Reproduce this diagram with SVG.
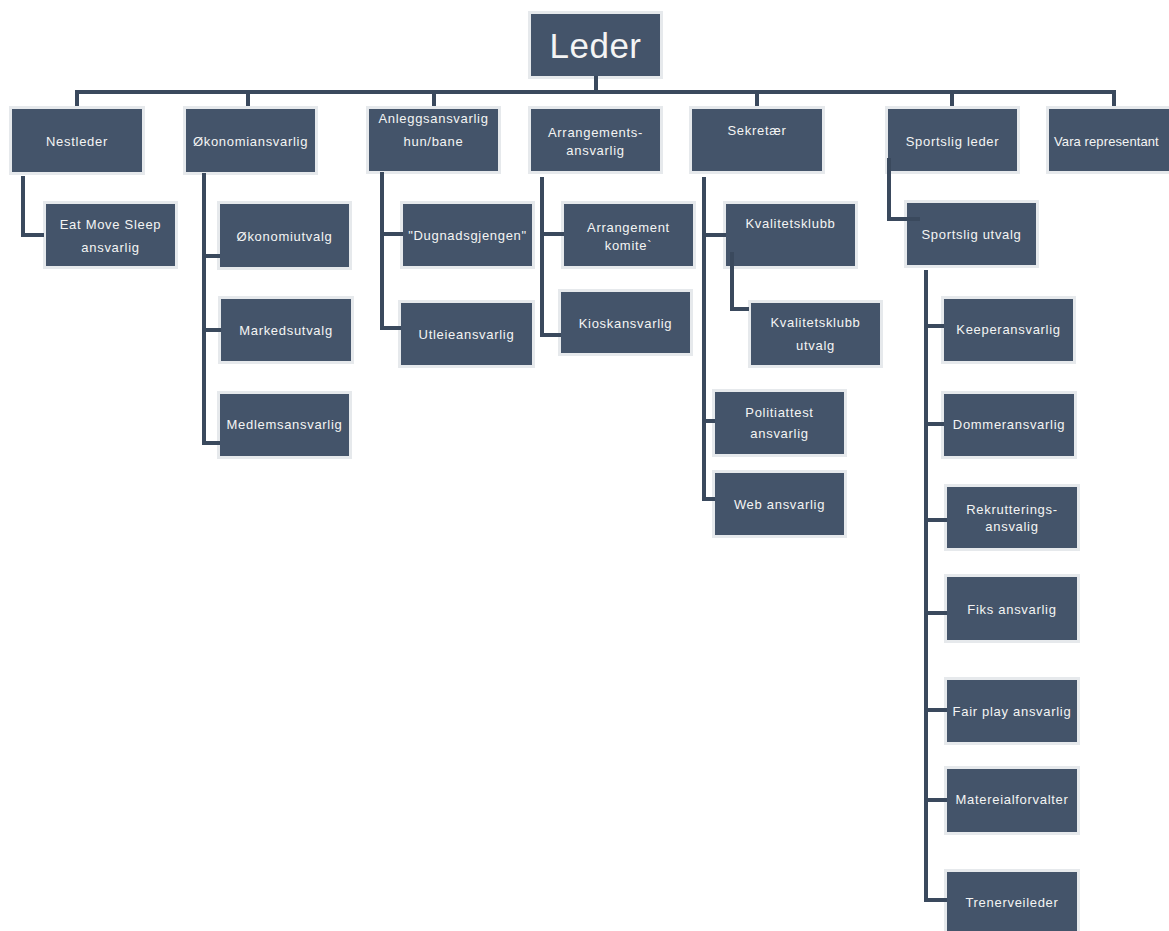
<svg xmlns="http://www.w3.org/2000/svg" width="1169" height="931" viewBox="0 0 1169 931">
<style>
.glow{fill:#e6e9ec}
.box{fill:#44546a}
.t{font-family:"Liberation Sans",Arial,sans-serif;font-size:13px;fill:#f4f4f4;text-anchor:middle;letter-spacing:0.7px}
.big{font-size:35px;letter-spacing:0.5px}
.c{fill:none;stroke:#3a495d;stroke-width:4;stroke-linejoin:miter;stroke-linecap:butt}
</style>
<rect width="1169" height="931" fill="#ffffff"/>
<g id="nodes">
<g id="leder"><rect class="glow" x="528" y="11" width="135" height="68"/><rect class="box" x="531" y="14" width="129" height="62"/><text class="t big" x="595.5" y="58">Leder</text></g>
<g id="nestleder"><rect class="glow" x="9" y="106" width="136" height="69"/><rect class="box" x="12" y="109" width="130" height="63"/><text class="t" x="77" y="145.5">Nestleder</text></g>
<g id="okonomiansvarlig"><rect class="glow" x="183" y="106" width="135" height="69"/><rect class="box" x="186" y="109" width="129" height="63"/><text class="t" x="250.5" y="145.5">Økonomiansvarlig</text></g>
<g id="anlegg"><rect class="glow" x="366" y="106" width="135" height="68"/><rect class="box" x="369" y="109" width="129" height="62"/><text class="t" x="433.5" y="122.5">Anleggsansvarlig</text><text class="t" x="433.5" y="145.5">hun/bane</text></g>
<g id="arrangements"><rect class="glow" x="528" y="106" width="135" height="68"/><rect class="box" x="531" y="109" width="129" height="62"/><text class="t" x="595.5" y="136.5">Arrangements-</text><text class="t" x="595.5" y="154.5">ansvarlig</text></g>
<g id="sekretaer"><rect class="glow" x="689" y="106" width="136" height="68"/><rect class="box" x="692" y="109" width="130" height="62"/><text class="t" x="757" y="134.5">Sekretær</text></g>
<g id="sportslig-leder"><rect class="glow" x="885" y="106" width="135" height="68"/><rect class="box" x="888" y="109" width="129" height="62"/><text class="t" x="952.5" y="145.5">Sportslig leder</text></g>
<g id="vara"><rect class="glow" x="1046" y="106" width="136" height="68"/><rect class="box" x="1049" y="109" width="130" height="62"/><text class="t" x="1054" y="145.5" style="text-anchor:start;letter-spacing:0.1px">Vara representant</text></g>
<g id="eat-move-sleep"><rect class="glow" x="43" y="201" width="135" height="68"/><rect class="box" x="46" y="204" width="129" height="62"/><text class="t" x="110.5" y="228.5">Eat Move Sleep</text><text class="t" x="110.5" y="251.5">ansvarlig</text></g>
<g id="okonomiutvalg"><rect class="glow" x="217" y="201" width="135" height="69"/><rect class="box" x="220" y="204" width="129" height="63"/><text class="t" x="284.5" y="240.5">Økonomiutvalg</text></g>
<g id="markedsutvalg"><rect class="glow" x="218" y="296" width="136" height="68"/><rect class="box" x="221" y="299" width="130" height="62"/><text class="t" x="286" y="334.5">Markedsutvalg</text></g>
<g id="medlemsansvarlig"><rect class="glow" x="217" y="391" width="135" height="68"/><rect class="box" x="220" y="394" width="129" height="62"/><text class="t" x="284.5" y="428.5">Medlemsansvarlig</text></g>
<g id="dugnadsgjengen"><rect class="glow" x="400" y="201" width="135" height="68"/><rect class="box" x="403" y="204" width="129" height="62"/><text class="t" x="467.5" y="239.5">"Dugnadsgjengen"</text></g>
<g id="utleieansvarlig"><rect class="glow" x="398" y="300" width="137" height="68"/><rect class="box" x="401" y="303" width="131" height="62"/><text class="t" x="466.5" y="338.5">Utleieansvarlig</text></g>
<g id="arrangement-komite"><rect class="glow" x="561" y="201" width="135" height="68"/><rect class="box" x="564" y="204" width="129" height="62"/><text class="t" x="628.5" y="231.5">Arrangement</text><text class="t" x="628.5" y="249.5">komite`</text></g>
<g id="kioskansvarlig"><rect class="glow" x="558" y="289" width="135" height="67"/><rect class="box" x="561" y="292" width="129" height="61"/><text class="t" x="625.5" y="327.5">Kioskansvarlig</text></g>
<g id="kvalitetsklubb"><rect class="glow" x="723" y="201" width="135" height="68"/><rect class="box" x="726" y="204" width="129" height="62"/><text class="t" x="790.5" y="227.5">Kvalitetsklubb</text></g>
<g id="kvalitetsklubb-utvalg"><rect class="glow" x="748" y="300" width="135" height="68"/><rect class="box" x="751" y="303" width="129" height="62"/><text class="t" x="815.5" y="326.5">Kvalitetsklubb</text><text class="t" x="815.5" y="349.5">utvalg</text></g>
<g id="politiattest"><rect class="glow" x="712" y="389" width="135" height="68"/><rect class="box" x="715" y="392" width="129" height="62"/><text class="t" x="779.5" y="416.5">Politiattest</text><text class="t" x="779.5" y="437.5">ansvarlig</text></g>
<g id="web-ansvarlig"><rect class="glow" x="712" y="470" width="135" height="68"/><rect class="box" x="715" y="473" width="129" height="62"/><text class="t" x="779.5" y="508.5">Web ansvarlig</text></g>
<g id="sportslig-utvalg"><rect class="glow" x="904" y="200" width="135" height="68"/><rect class="box" x="907" y="203" width="129" height="62"/><text class="t" x="971.5" y="238.5">Sportslig utvalg</text></g>
<g id="keeperansvarlig"><rect class="glow" x="941" y="296" width="135" height="68"/><rect class="box" x="944" y="299" width="129" height="62"/><text class="t" x="1008.5" y="333.5">Keeperansvarlig</text></g>
<g id="dommeransvarlig"><rect class="glow" x="941" y="391" width="136" height="68"/><rect class="box" x="944" y="394" width="130" height="62"/><text class="t" x="1009" y="428.5">Dommeransvarlig</text></g>
<g id="rekrutterings"><rect class="glow" x="944" y="484" width="136" height="67"/><rect class="box" x="947" y="487" width="130" height="61"/><text class="t" x="1012" y="513.5">Rekrutterings-</text><text class="t" x="1012" y="530.5">ansvalig</text></g>
<g id="fiks"><rect class="glow" x="944" y="574" width="136" height="69"/><rect class="box" x="947" y="577" width="130" height="63"/><text class="t" x="1012" y="613.5">Fiks ansvarlig</text></g>
<g id="fair-play"><rect class="glow" x="944" y="677" width="136" height="68"/><rect class="box" x="947" y="680" width="130" height="62"/><text class="t" x="1012" y="715.5">Fair play ansvarlig</text></g>
<g id="materialforvalter"><rect class="glow" x="944" y="766" width="136" height="69"/><rect class="box" x="947" y="769" width="130" height="63"/><text class="t" x="1012" y="803.5">Matereialforvalter</text></g>
<g id="trenerveileder"><rect class="glow" x="944" y="869" width="136" height="68"/><rect class="box" x="947" y="872" width="130" height="62"/><text class="t" x="1012" y="906.5">Trenerveileder</text></g>
</g>
<g id="connectors">
<path class="c" d="M596 76 V92"/>
<path class="c" d="M77 106 V92 H1114 V106"/>
<path class="c" d="M248 92 V106 M434 92 V106 M757 92 V106 M952 92 V106"/>
<path class="c" d="M23 176 V235 H44"/>
<path class="c" d="M204 173 V443 H220 M204 256 H220 M204 330 H221"/>
<path class="c" d="M382 172 V328 H401 M382 234 H403"/>
<path class="c" d="M542 177 V335 H561 M542 234 H564"/>
<path class="c" d="M704 177 V499 H715 M704 235 H726 M704 421 H715"/>
<path class="c" d="M732 252 V309 H749"/>
<path class="c" d="M889 158 V219 H920"/>
<path class="c" d="M926 270 V900 H947 M926 326 H944 M926 424 H944 M926 520 H947 M926 613 H947 M926 710 H947 M926 800 H947"/>
</g>
</svg>
